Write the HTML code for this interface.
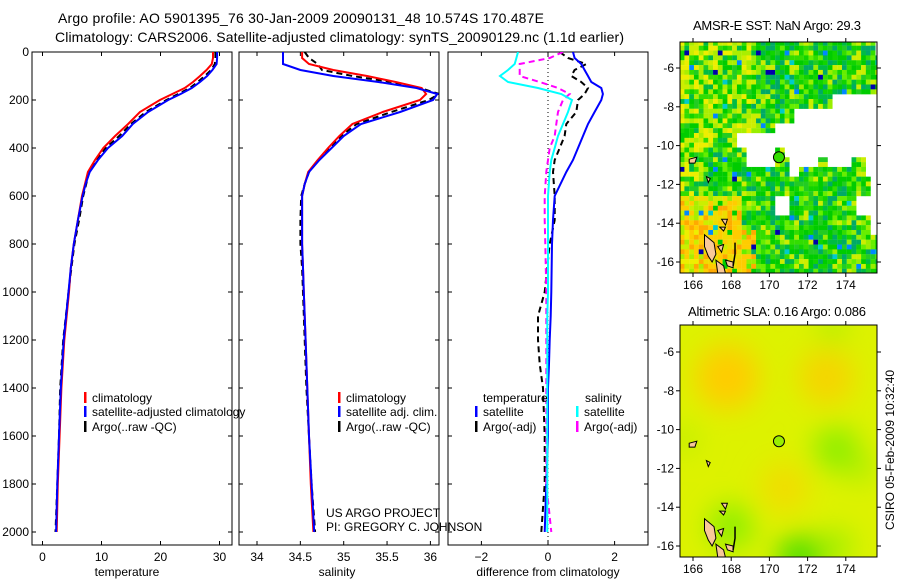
<!DOCTYPE html>
<html><head><meta charset="utf-8"><style>
html,body{margin:0;padding:0;background:#fff}
svg{display:block;font-family:"Liberation Sans",sans-serif}
</style></head><body>
<svg id="fig" width="900" height="580" viewBox="0 0 900 580">
<defs>
<filter id="blur" x="-20%" y="-20%" width="140%" height="140%"><feGaussianBlur stdDeviation="14"/></filter>
<clipPath id="c1"><rect x="32" y="52" width="200" height="493"/></clipPath>
<clipPath id="c2"><rect x="239" y="52" width="200" height="493"/></clipPath>
<clipPath id="c3"><rect x="448" y="52" width="200" height="493"/></clipPath>
<clipPath id="m1"><rect x="680" y="42" width="197" height="231"/></clipPath>
<clipPath id="m2"><rect x="680" y="325" width="197" height="232"/></clipPath>
</defs>
<text x="58" y="23" font-size="14" textLength="486">Argo profile: AO 5901395_76 30-Jan-2009 20090131_48 10.574S 170.487E</text>
<text x="55" y="42" font-size="14" textLength="569">Climatology: CARS2006. Satellite-adjusted climatology: synTS_20090129.nc (1.1d earlier)</text>
<g id="plots"></g>
<text x="693" y="30" font-size="13" textLength="168">AMSR-E SST: NaN Argo: 29.3</text>
<text x="688" y="316" font-size="13" textLength="178">Altimetric SLA: 0.16 Argo: 0.086</text>
<text transform="translate(894,450) rotate(-90)" font-size="12" text-anchor="middle">CSIRO 05-Feb-2009 10:32:40</text>
<text x="326" y="517" font-size="12">US ARGO PROJECT</text>
<text x="326" y="531" font-size="12">PI: GREGORY C. JOHNSON</text>
</svg>
<script>
// ---- profile data ----
const depths = [0,25,50,75,100,125,150,175,200,250,300,350,400,450,500,550,600,700,800,900,1000,1200,1400,1600,1800,2000];
const tempClim = [28.9,28.9,28.7,27.8,26.7,25.5,24.1,22.0,19.9,16.5,14.5,12.3,10.3,8.9,7.7,7.2,6.7,6.0,5.3,4.8,4.5,3.7,3.2,2.9,2.6,2.4];
const tempSat = [29.6,29.6,29.5,28.8,27.9,26.7,25.3,23.4,21.3,17.9,15.3,13.5,11.1,9.4,8.0,7.3,6.8,6.0,5.3,4.8,4.4,3.6,3.1,2.8,2.5,2.3];
const tempArgo = [29.3,29.3,29.2,28.6,27.5,26.3,25.0,23.0,21.0,17.5,15.0,13.0,10.7,9.2,7.9,7.4,6.9,6.2,5.4,4.9,4.4,3.5,3.0,2.8,2.5,2.2];
const salClim = [34.52,34.52,34.6,34.88,35.27,35.6,35.9,35.95,35.88,35.45,35.1,34.95,34.82,34.7,34.59,34.55,34.52,34.52,34.52,34.53,34.54,34.56,34.58,34.6,34.62,34.65];
const salSat = [34.3,34.3,34.3,34.5,34.88,35.4,35.84,36.08,36.03,35.65,35.2,35.0,34.86,34.72,34.6,34.55,34.52,34.52,34.52,34.53,34.54,34.56,34.58,34.6,34.63,34.66];
const salArgo = [34.55,34.6,34.7,34.75,35.1,35.55,35.88,36.1,35.98,35.55,35.15,34.97,34.84,34.71,34.6,34.55,34.51,34.5,34.5,34.52,34.53,34.55,34.57,34.6,34.63,34.67];
const diffDepths = [0,25,50,75,100,125,150,175,200,250,300,350,400,450,500,600,700,800,1000,1100,1200,1300,1400,1600,1800,2000];
const tempSatDiff = [0.75,0.8,1.0,1.1,1.2,1.3,1.6,1.65,1.6,1.4,1.2,1.05,0.9,0.75,0.55,0.2,0.15,0.12,0.1,0.08,0.05,0.03,0.0,0.0,-0.05,-0.1];
const tempArgoDiff = [0.35,0.6,1.15,0.8,0.7,1.0,1.2,1.1,0.9,0.85,0.55,0.5,0.35,0.2,0.15,0.2,0.2,0.05,-0.1,-0.3,-0.3,-0.25,-0.15,-0.1,-0.1,-0.2];
const salSatDiff = [-0.9,-0.95,-1.0,-1.2,-1.44,-1.2,-0.3,0.4,0.72,0.6,0.45,0.3,0.2,0.1,0.05,0.0,0.0,0.0,0.0,-0.02,-0.02,-0.02,-0.02,-0.02,-0.02,-0.02];
const salArgoDiff = [0.45,0.05,-0.85,-0.85,-0.85,-0.25,0.3,0.65,0.45,0.3,0.25,0.2,0.05,0.0,-0.05,-0.1,-0.1,-0.08,-0.05,-0.05,-0.05,-0.05,-0.05,-0.05,-0.05,0.1];
const depthTicks = [0,200,400,600,800,1000,1200,1400,1600,1800,2000];
const tempTicks = [0,10,20,30];
const salTicks = [34,34.5,35,35.5,36];
const diffTicks = [-2,0,2];
const lonTicks = [166,168,170,172,174];
const latTicks = [-6,-8,-10,-12,-14,-16];
const argoLon = 170.5, argoLat = -10.6;

const NS='http://www.w3.org/2000/svg';
const root=document.getElementById('plots');
function el(tag,attrs,parent){const e=document.createElementNS(NS,tag);for(const k in attrs)e.setAttribute(k,attrs[k]);(parent||root).appendChild(e);return e;}
const yD=d=>52+d*0.24;
const xT=v=>42.5+v*5.9;
const xS=v=>257+(v-34)*86.7;
const xDf=v=>548+v*33.3;

function panel(name,x0,scale,ticks,label,labelX,showY,clip){
  const g=el('g',{});
  
  
  const b=el('rect',{x:x0,y:52,width:200,height:493,fill:'none',stroke:'#000','stroke-width':1},g);
  
  
  ticks.forEach(t=>{
    const x=scale(t);
    el('line',{x1:x,x2:x,y1:545,y2:541,stroke:'#000'},g);
    el('line',{x1:x,x2:x,y1:52,y2:56,stroke:'#000'},g);
    const tx=el('text',{x:x,y:561,'font-size':12,'text-anchor':'middle'},g);
    tx.textContent=(t<0?'\u2212'+(-t):t);
    
    
  });
  depthTicks.forEach(d=>{
    const y=yD(d);
    el('line',{x1:x0,x2:x0+4,y1:y,y2:y,stroke:'#000'},g);
    el('line',{x1:x0+200,x2:x0+196,y1:y,y2:y,stroke:'#000'},g);
    if(showY){const t=el('text',{x:x0-3,y:y+4,'font-size':12,'text-anchor':'end'},g);t.textContent=d;
      
      }
  });
  const l=el('text',{x:labelX,y:576,'font-size':12,'text-anchor':'middle'},g);
  l.textContent=label;
  
  
  return g;
}
function line(vals,ds,scale,color,dash,clip,name){
  const pts=vals.map((v,i)=>scale(v).toFixed(1)+','+yD(ds[i]).toFixed(1)).join(' ');
  const p=el('polyline',{points:pts,fill:'none',stroke:color,'stroke-width':2,'stroke-dasharray':dash||'none','clip-path':'url(#'+clip+')'});
  
  
}
function legend(x,y,color,text,name){
  const r=el('rect',{x:x,y:y-10,width:2.5,height:11,fill:color});
  
  
  const t=el('text',{x:x+8,y:y,'font-size':12});t.textContent=text;
  
  
}

panel('temperature-panel',32,xT,tempTicks,'temperature',127,true,'c1');
panel('salinity-panel',239,xS,salTicks,'salinity',337,false,'c2');
panel('difference-panel',448,xDf,diffTicks,'difference from climatology',548,false,'c3');
const zl=el('line',{x1:548,x2:548,y1:52,y2:545,stroke:'#000','stroke-dasharray':'1,3'});



line(tempArgo,depths,xT,'#000','6,4','c1','temp-argo-line');
line(tempClim,depths,xT,'#f00',null,'c1','temp-clim-line');
line(tempSat,depths,xT,'#00f',null,'c1','temp-sat-line');
line(salArgo,depths,xS,'#000','6,4','c2','sal-argo-line');
line(salClim,depths,xS,'#f00',null,'c2','sal-clim-line');
line(salSat,depths,xS,'#00f',null,'c2','sal-sat-line');
line(tempArgoDiff,diffDepths,xDf,'#000','6,4','c3','temp-argo-diff-line');
line(tempSatDiff,diffDepths,xDf,'#00f',null,'c3','temp-sat-diff-line');
line(salArgoDiff,diffDepths,xDf,'#f0f','6,4','c3','sal-argo-diff-line');
line(salSatDiff,diffDepths,xDf,'#0ff',null,'c3','sal-sat-diff-line');

legend(84,402,'#f00','climatology','legend-temp-clim');
legend(84,416,'#00f','satellite-adjusted climatology','legend-temp-sat');
legend(84,431,'#000','Argo(..raw -QC)','legend-temp-argo');
legend(338,402,'#f00','climatology','legend-sal-clim');
legend(338,416,'#00f','satellite adj. clim.','legend-sal-sat');
legend(338,431,'#000','Argo(..raw -QC)','legend-sal-argo');
{const t=el('text',{x:483,y:402,'font-size':12});t.textContent='temperature';


const s=el('text',{x:585,y:402,'font-size':12});s.textContent='salinity';

}
legend(475,416,'#00f','satellite','legend-diff-temp-sat');
legend(475,431,'#000','Argo(-adj)','legend-diff-temp-argo');
legend(576,416,'#0ff','satellite','legend-diff-sal-sat');
legend(576,431,'#f0f','Argo(-adj)','legend-diff-sal-argo');

// ---- maps ----
const mx=lon=>693+(lon-166)*19.1;
function my(lat,top){return top+(-6-lat)*19.4;}
function mapFrame(name,y0,h,latTop,clip){
  const g=el('g',{});
  
  
  const r=el('rect',{x:680,y:y0,width:197,height:h,fill:'none',stroke:'#000'},g);
  
  
  lonTicks.forEach(l=>{const x=mx(l);
    el('line',{x1:x,x2:x,y1:y0+h,y2:y0+h+4,stroke:'#000'},g);
    el('line',{x1:x,x2:x,y1:y0,y2:y0-4,stroke:'#000'},g);
    const t=el('text',{x:x,y:y0+h+16,'font-size':12,'text-anchor':'middle'},g);t.textContent=l;
    
    });
  latTicks.forEach(l=>{const y=my(l,latTop);
    el('line',{x1:877,x2:881,y1:y,y2:y,stroke:'#000'},g);
    el('line',{x1:680,x2:676,y1:y,y2:y,stroke:'#000'},g);
    const t=el('text',{x:674,y:y+4,'font-size':12,'text-anchor':'end'},g);t.textContent=(l<0?'-'+(-l):l);
    
    });
}
function hash(i,j){let h=(i*374761393+j*668265263)^0x5bd1e995;h=(h^(h>>>13))*1274126177;h=h^(h>>>16);return ((h>>>0)%1000)/1000;}
function isWhite(lon,lat){
  if(lat<-7.3&&lat>-8.2&&lon>173.2)return true;
  if(lat<=-8.2&&lat>-8.9&&lon>171.4)return true;
  if(lat<=-8.9&&lat>-9.4&&lon>170.2)return true;
  if(lat<=-9.4&&lat>-10.1&&lon>168.3)return true;
  if(lat<=-10.1&&lat>-10.5&&(lon>168.8&&lon<170.2||lon>170.9))return true;
  if(lat<=-10.5&&lat>-11.2&&(lon>168.8&&lon<170.2||lon>171&&lon<172.5||lon>173.1&&lon<174.2||lon>175))return true;
  if(lat<=-11.2&&lat>-11.6&&(lon>171&&lon<171.6||lon>175))return true;
  if(lat<=-11.6&&lat>-12.7&&lon>175.2)return true;
  if(lat<=-12.7&&lat>-13.5&&(lon>170.4&&lon<171.1||lon>174.6))return true;
  if(lat<=-13.5&&lat>-14.5&&lon>175.3)return true;
  if(lat>-5.3&&lon>175.5)return true;
  return false;
}
const sstG=el('g',{'clip-path':'url(#m1)'});


const greens=['#00cc00','#11d400','#33dd00','#00bb44','#22cc22','#00aa66','#66ee00','#99ee00','#ccee00','#00cc00'];
for(let i=0;i<44;i++)for(let j=0;j<50;j++){
  const lon=165.3+i*0.25+0.125, lat=-4.6-j*0.25-0.125;
  if(isWhite(lon,lat))continue;
  const r=hash(i,j); let c;
  const warm=(lon<168.6&&lat<-12.8)?1:(lon<169.3&&lat<-14.3?0.7:0);
  if(warm>0&&r<0.8*warm){c=r<0.2?'#ffaa00':(r<0.5?'#ffcc00':'#eedd00');}
  else if(r>0.99)c='#0000aa';
  else if(r>0.98)c='#0088ff';
  else if(r>0.965)c='#00cccc';
  else c=greens[Math.floor(r/0.965*greens.length)];
  if(((lat>-10&&lon<169)||(lon<166.5))&&r>0.45&&r<0.965)c=['#ccee00','#aaee00','#eeee00'][Math.floor(r*30)%3];
  if(lon<168.6&&lat<-12.5&&lat>=-12.8&&r<0.6)c='#eedd00';
  el('rect',{x:mx(lon-0.125),y:my(lat+0.125,68),width:4.9,height:5,fill:c},sstG);
}
const slaG=el('g',{'clip-path':'url(#m2)'});


el('rect',{x:680,y:325,width:197,height:232,fill:'#ddf200'},slaG);
const blobs=[[167.8,-7.3,32,'#ffcc00'],[173,-7.3,28,'#f6d400'],[170.8,-13,24,'#f2dc00'],[173.5,-11,22,'#88ee00'],[168,-15,22,'#88ee00'],[171.6,-16.6,22,'#44dd00'],[173.3,-4.8,14,'#aaee00'],[165.5,-10.5,14,'#bbee00'],[174.8,-12,14,'#aaee00'],[173.5,-16,16,'#99ee00']];
const bg=el('g',{filter:'url(#blur)'},slaG);
blobs.forEach(b=>el('circle',{cx:mx(b[0]),cy:my(b[1],352),r:b[2],fill:b[3]},bg));
function islands(top,g){
  const shapes=[[[166.6,-14.6],[167.1,-15],[167.2,-15.6],[167,-16],[166.8,-15.7],[166.6,-15.2]],
   [[167.2,-15.9],[167.6,-16.2],[167.7,-16.6],[167.3,-16.6]],[[167.7,-15.9],[168.1,-16],[168.1,-16.3],[167.8,-16.2]],
   [[167.3,-15.2],[167.6,-15.1],[167.5,-15.5]],[[167.5,-13.8],[167.8,-13.8],[167.7,-14.1]],[[167.4,-14.2],[167.7,-14.2],[167.6,-14.4]],
   [[165.8,-10.7],[166.2,-10.6],[166.1,-10.9],[165.8,-10.9]],[[166.7,-11.6],[166.9,-11.7],[166.8,-11.9]]];
  shapes.forEach(s=>{const p=el('polygon',{points:s.map(q=>mx(q[0]).toFixed(1)+','+my(q[1],top).toFixed(1)).join(' '),fill:'#f8c898',stroke:'#000','stroke-width':1},g);
    
    });
  el('polyline',{points:[[168.2,-15],[168.2,-15.6],[168.1,-16.2]].map(q=>mx(q[0])+','+my(q[1],top)).join(' '),fill:'none',stroke:'#000','stroke-width':1.5},g);
}
islands(68,sstG); islands(352,slaG);
mapFrame('sst-map',42,231,68,'m1');
mapFrame('sla-map',325,232,352,'m2');
[[68,'#33dd00','sst-argo-marker'],[352,'#99ee00','sla-argo-marker']].forEach(a=>{
  const c=el('circle',{cx:mx(argoLon),cy:my(argoLat,a[0]),r:5.5,fill:a[1],stroke:'#000','stroke-width':1});
  
  
});
</script>
</body></html>
